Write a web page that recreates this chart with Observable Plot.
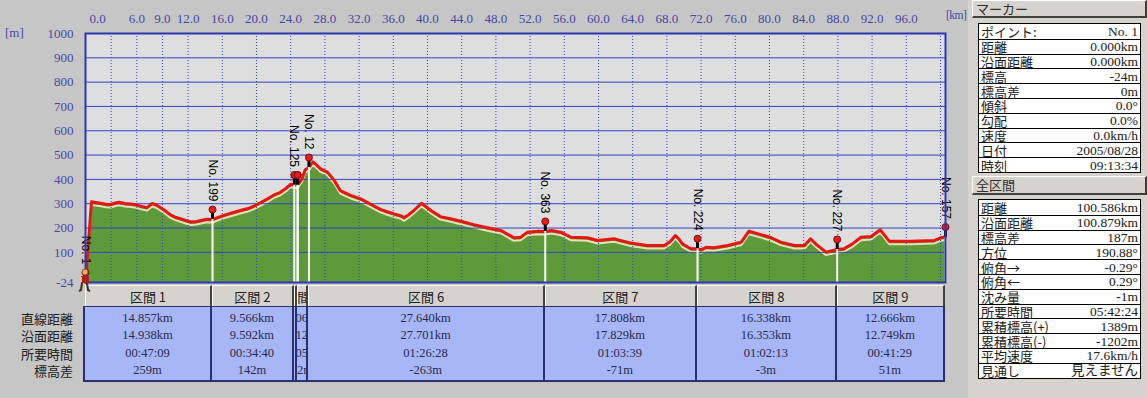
<!DOCTYPE html>
<html><head><meta charset="utf-8">
<script src="https://cdn.jsdelivr.net/npm/d3@7"></script>
<script src="https://cdn.jsdelivr.net/npm/@observablehq/plot@0.6"></script>
<style>
html,body{margin:0;padding:0;}
body{background:#c6c6c6;width:1147px;height:398px;overflow:hidden;position:relative;font-family:"Noto Sans CJK JP",sans-serif;color:#202020;}
#chart{position:absolute;left:0;top:0;}
.abs{position:absolute;}
.unit{position:absolute;font-family:"Liberation Serif",serif;font-size:13px;color:#4646a6;}
.hcell{position:absolute;top:285px;height:22px;box-sizing:border-box;background:#d6d3ce;border-left:1px solid #fff;border-top:1px solid #fff;border-right:2px solid #404040;border-bottom:1px solid #505050;overflow:hidden;display:flex;justify-content:center;align-items:center;font-size:13px;color:#202020;}
.hcell span,.dline span{white-space:nowrap;}
.dcell{position:absolute;top:307px;height:74px;box-sizing:border-box;background:#a6b6f6;border-right:2px solid #283070;overflow:hidden;padding-top:3px;}
.dline{height:17.3px;display:flex;justify-content:center;align-items:center;font-family:"Liberation Serif","Noto Sans CJK JP",serif;font-size:12.5px;color:#2a2a4a;}
.rlab{position:absolute;right:1074px;font-size:13px;line-height:16px;height:16px;color:#202020;white-space:nowrap;}
#panelbg{position:absolute;left:968px;top:0;width:179px;height:398px;background:#d6d3ce;}
.btn{position:absolute;left:972px;width:175px;box-sizing:border-box;background:#d6d3ce;border-top:1px solid #fff;border-left:1px solid #fff;border-right:2px solid #404040;border-bottom:2px solid #404040;font-size:13px;line-height:15px;padding-left:3px;color:#303030;}
.box{position:absolute;left:978px;width:163px;background:#fff;border:1px solid #000;box-sizing:border-box;}
.prow{height:14.8px;box-sizing:border-box;border-top:1px solid #000;display:flex;justify-content:space-between;align-items:center;padding:0 2px 0 2px;font-size:13px;line-height:13px;}
.prow:first-child{border-top:none;}
.prow span{display:block;height:13px;line-height:13px;white-space:nowrap;}
.prow .v{font-family:"Liberation Serif","Noto Sans CJK JP",serif;font-size:13.5px;}
</style></head><body>
<div id="panelbg"></div>
<div id="chart"></div>
<div class="unit" style="left:5px;top:25px;">[m]</div>
<div class="unit" style="left:946px;top:9px;font-size:11.5px;letter-spacing:-0.5px;">[km]</div>
<div id="tbl"></div>
<div id="panel"></div>
<script>
// ---------- data ----------
const profileKm   = [0.0, 0.7, 1.2, 1.76, 2.4, 2.93, 3.5, 3.9, 4.6, 5.27, 5.9, 6.44, 7.2, 7.8, 8.4, 9.2, 9.95, 10.5, 11.1, 11.8, 12.3, 13.0, 13.5, 14.2, 14.857, 15.5, 16.6, 17.4, 18.1, 19.0, 19.7, 20.5, 21.3, 22.0, 22.8, 23.4, 24.0, 24.423, 24.8, 25.3, 25.7, 26.134, 26.6, 27.0, 27.5, 28.3, 29.1, 29.8, 31.0, 32.2, 33.4, 34.5, 35.2, 36.1, 36.9, 37.25, 37.8, 38.4, 39.3, 40.4, 41.5, 42.7, 43.9, 45.4, 47.0, 48.6, 49.5, 50.1, 50.9, 51.7, 52.9, 53.774, 54.5, 55.6, 56.8, 58.7, 59.9, 61.8, 63.8, 65.7, 67.7, 68.4, 69.0, 69.4, 69.8, 70.8, 71.582, 72.0, 72.6, 73.5, 75.1, 76.7, 77.6, 79.0, 80.2, 81.3, 82.9, 84.1, 84.8, 85.4, 86.6, 87.92, 88.7, 89.7, 90.7, 91.9, 92.95, 94.0, 96.5, 99.3, 100.0, 100.586];
const profileElev = [-24, 308, 305, 302, 298, 297, 303, 306, 301, 299, 296, 290, 284, 301, 293, 274, 254, 245, 238, 230, 225, 227, 231, 236, 235, 244, 257, 265, 272, 280, 290, 305, 320, 335, 347, 362, 380, 377, 377, 400, 440, 449, 472, 460, 443, 430, 395, 354, 334, 320, 297, 277, 268, 258, 250, 242, 255, 272, 302, 272, 247, 238, 228, 214, 201, 190, 172, 160, 162, 183, 187, 186, 190, 183, 162, 160, 149, 156, 138, 128, 128, 145, 169, 155, 135, 115, 115, 110, 121, 119, 128, 142, 187, 173, 160, 142, 128, 128, 156, 135, 101, 112, 115, 135, 162, 165, 193, 146, 146, 149, 160, 163];

const markerKm    = [0, 14.857, 24.423, 24.8, 24.82, 26.134, 53.774, 71.582, 87.92, 100.586];
const markerElev  = [-24, 235, 377, 377, 377, 449, 186, 115, 112, 163];
const markerLabel = ["No. 1", "No. 199", "No. 125", "", "", "No. 12", "No. 363", "No. 224", "No. 227", "No. 157"];

const xLabelTicks = [0, 6, 9, 12, 16, 20, 24, 28, 32, 36, 40, 44, 48, 52, 56, 60, 64, 68, 72, 76, 80, 84, 88, 92, 96];
const xGridTicks  = [3, 6, 9, 12, 16, 20, 24, 28, 32, 36, 40, 44, 48, 52, 56, 60, 64, 68, 72, 76, 80, 84, 88, 92, 96, 100];
const yTicks      = [-24, 100, 200, 300, 400, 500, 600, 700, 800, 900, 1000];
const yGridTicks  = [100, 200, 300, 400, 500, 600, 700, 800, 900];
const totalKm     = 100.586;

const sectionLabels  = ["区間 1", "区間 2", "区間 3", "区間 4", "区間 5", "区間 6", "区間 7", "区間 8", "区間 9"];
const sectionStartKm = [0, 14.857, 24.423, 24.8, 24.82, 26.134, 53.774, 71.582, 87.92];
const sectionEndKm   = [14.857, 24.423, 24.8, 24.82, 26.134, 53.774, 71.582, 87.92, 100.586];
const rowLabels      = ["直線距離", "沿面距離", "所要時間", "標高差"];
const straightDist   = ["14.857km", "9.566km", "0.377km", "0.028km", "1.306km", "27.640km", "17.808km", "16.338km", "12.666km"];
const surfaceDist    = ["14.938km", "9.592km", "0.377km", "0.028km", "1.312km", "27.701km", "17.829km", "16.353km", "12.749km"];
const durations      = ["00:47:09", "00:34:40", "00:01:32", "00:00:09", "00:05:05", "01:26:28", "01:03:39", "01:02:13", "00:41:29"];
const elevDiffs      = ["259m", "142m", "0m", "0m", "72m", "-263m", "-71m", "-3m", "51m"];

const markerPanelLabels = ["ポイント:", "距離", "沿面距離", "標高", "標高差", "傾斜", "勾配", "速度", "日付", "時刻"];
const markerPanelValues = ["No. 1", "0.000km", "0.000km", "-24m", "0m", "0.0°", "0.0%", "0.0km/h", "2005/08/28", "09:13:34"];
const totalPanelLabels  = ["距離", "沿面距離", "標高差", "方位", "俯角→", "俯角←", "沈み量", "所要時間", "累積標高(+)", "累積標高(-)", "平均速度", "見通し"];
const totalPanelValues  = ["100.586km", "100.879km", "187m", "190.88°", "-0.29°", "0.29°", "-1m", "05:42:24", "1389m", "-1202m", "17.6km/h", "見えません"];

// ---------- chart ----------
const profile = profileKm.map((k, i) => ({km: k, elev: profileElev[i]}));
const markers = markerKm.map((k, i) => ({km: k, elev: markerElev[i], label: markerLabel[i]}));
const base = yTicks[0];
const W = 968, H = 290;
const blue = "#3444c4";
const chart = Plot.plot({
  width: W, height: H,
  marginLeft: 85, marginRight: W - 945, marginTop: 33, marginBottom: H - 282,
  x: {domain: [0, totalKm], axis: null},
  y: {domain: [base, 1000], ticks: yTicks, tickFormat: d => String(d), tickSize: 0, tickPadding: 12, label: null},
  style: {background: "transparent", fontFamily: "Liberation Serif, serif", fontSize: "13px", color: "#4646a6", overflow: "visible"},
  marks: [
    Plot.frame({fill: "#dedede", stroke: null}),
    Plot.area(profile, {x1: "km", y1: () => base, y2: "elev", fill: "#5c9a3a"}),
    Plot.line(profile, {x: "km", y: "elev", stroke: "#e6dfbd", strokeWidth: 2, dy: 3}),
    Plot.ruleY(yGridTicks, {stroke: blue, strokeWidth: 1}),
    Plot.ruleX(xGridTicks, {stroke: blue, strokeWidth: 1, strokeDasharray: "1,2"}),
    Plot.line(profile, {x: "km", y: "elev", stroke: "#e8160e", strokeWidth: 3, strokeLinejoin: "round"}),
    Plot.ruleX(markers, {x: "km", y1: () => base, y2: "elev", stroke: "white", strokeWidth: 2}),
    Plot.ruleX(markers, {x: "km", y1: "elev", y2: d => d.elev + 38, stroke: "black", strokeWidth: 3}),
    Plot.dot(markers, {x: "km", y: "elev", dy: -10, r: 3.5, fill: "#ee1a1a", stroke: "#701010", strokeWidth: 1}),
    Plot.text(markers, {x: "km", y: "elev", text: "label", rotate: 90, textAnchor: "end", dy: -18, fill: "black", fontFamily: "Liberation Sans, sans-serif", fontSize: 12}),
    Plot.text(xLabelTicks.filter(d => d > 0), {x: d => d, frameAnchor: "top", dy: -20, text: d => d.toFixed(1), fill: "#4646a6", fontFamily: "Liberation Serif, serif", fontSize: 13}),
    Plot.text(xLabelTicks.filter(d => d === 0), {x: d => d, frameAnchor: "top", dy: -20, dx: 12, text: d => d.toFixed(1), fill: "#4646a6", fontFamily: "Liberation Serif, serif", fontSize: 13}),
    Plot.frame({stroke: "#2a38b0", strokeWidth: 2})
  ]
});
document.getElementById("chart").appendChild(chart);

// hiker icon at the current marker
const sx = chart.scale("x"), sy = chart.scale("y");
const X = sx.apply ? v => sx.apply(v) : d3.scaleLinear(sx.domain, sx.range);
const Y = sy.apply ? v => sy.apply(v) : d3.scaleLinear(sy.domain, sy.range);
const hx = X(markerKm[0]), hy = Y(markerElev[0]);
const hiker = document.createElement("div");
hiker.className = "abs";
hiker.style.left = (hx - 7) + "px"; hiker.style.top = (hy - 14) + "px";
hiker.innerHTML = '<svg width="14" height="26"><circle cx="7" cy="4" r="3" fill="#f0b070" stroke="#c04010" stroke-width="1"/><rect x="3" y="8" width="8" height="7" fill="#a82020"/><rect x="2" y="9" width="2" height="5" fill="#f0c090"/><path d="M4 15 L3 22 L1 23 M9 15 L10 22 L12 23" stroke="#403020" stroke-width="2" fill="none"/></svg>';
document.body.appendChild(hiker);

// ---------- section table ----------
const tbl = document.getElementById("tbl");
const cols = [straightDist, surfaceDist, durations, elevDiffs];
sectionLabels.forEach((lab, i) => {
  const l = X(sectionStartKm[i]), r = X(sectionEndKm[i]);
  const w = Math.max(r - l, 1);
  const showText = w >= 6;   // columns too narrow to show any glyph stay blank, as in the reference
  const h = document.createElement("div");
  h.className = "hcell";
  h.style.left = l + "px"; h.style.width = w + "px";
  h.innerHTML = showText ? "<span>" + lab + "</span>" : "";
  tbl.appendChild(h);
  const d = document.createElement("div");
  d.className = "dcell";
  d.style.left = l + "px"; d.style.width = w + "px";
  d.innerHTML = cols.map(c => '<div class="dline"><span>' + (showText ? c[i] : "") + "</span></div>").join("");
  tbl.appendChild(d);
});
const outline = document.createElement("div");
outline.className = "abs";
const tl = X(0), tr = X(totalKm);
outline.style.cssText = `left:${tl - 2}px;top:306px;width:${tr - tl + 2}px;height:76px;box-sizing:border-box;border:2px solid #283070;border-top:1px solid #283070;pointer-events:none;`;
tbl.appendChild(outline);
rowLabels.forEach((t, i) => {
  const e = document.createElement("div");
  e.className = "rlab";
  e.style.top = (311 + i * 17.3) + "px";
  e.textContent = t;
  tbl.appendChild(e);
});

// ---------- right panel ----------
const panel = document.getElementById("panel");
function button(text, top, h) {
  const b = document.createElement("div");
  b.className = "btn"; b.style.top = top + "px"; b.style.height = h + "px";
  b.textContent = text; panel.appendChild(b);
}
function box(labels, values, top) {
  const b = document.createElement("div");
  b.className = "box"; b.style.top = top + "px";
  b.innerHTML = labels.map((t, i) => '<div class="prow"><span>' + t + '</span><span class="v">' + values[i] + "</span></div>").join("");
  panel.appendChild(b);
}
button("マーカー", 0, 18);
box(markerPanelLabels, markerPanelValues, 23);
button("全区間", 176, 19);
box(totalPanelLabels, totalPanelValues, 199);
</script>
</body></html>
